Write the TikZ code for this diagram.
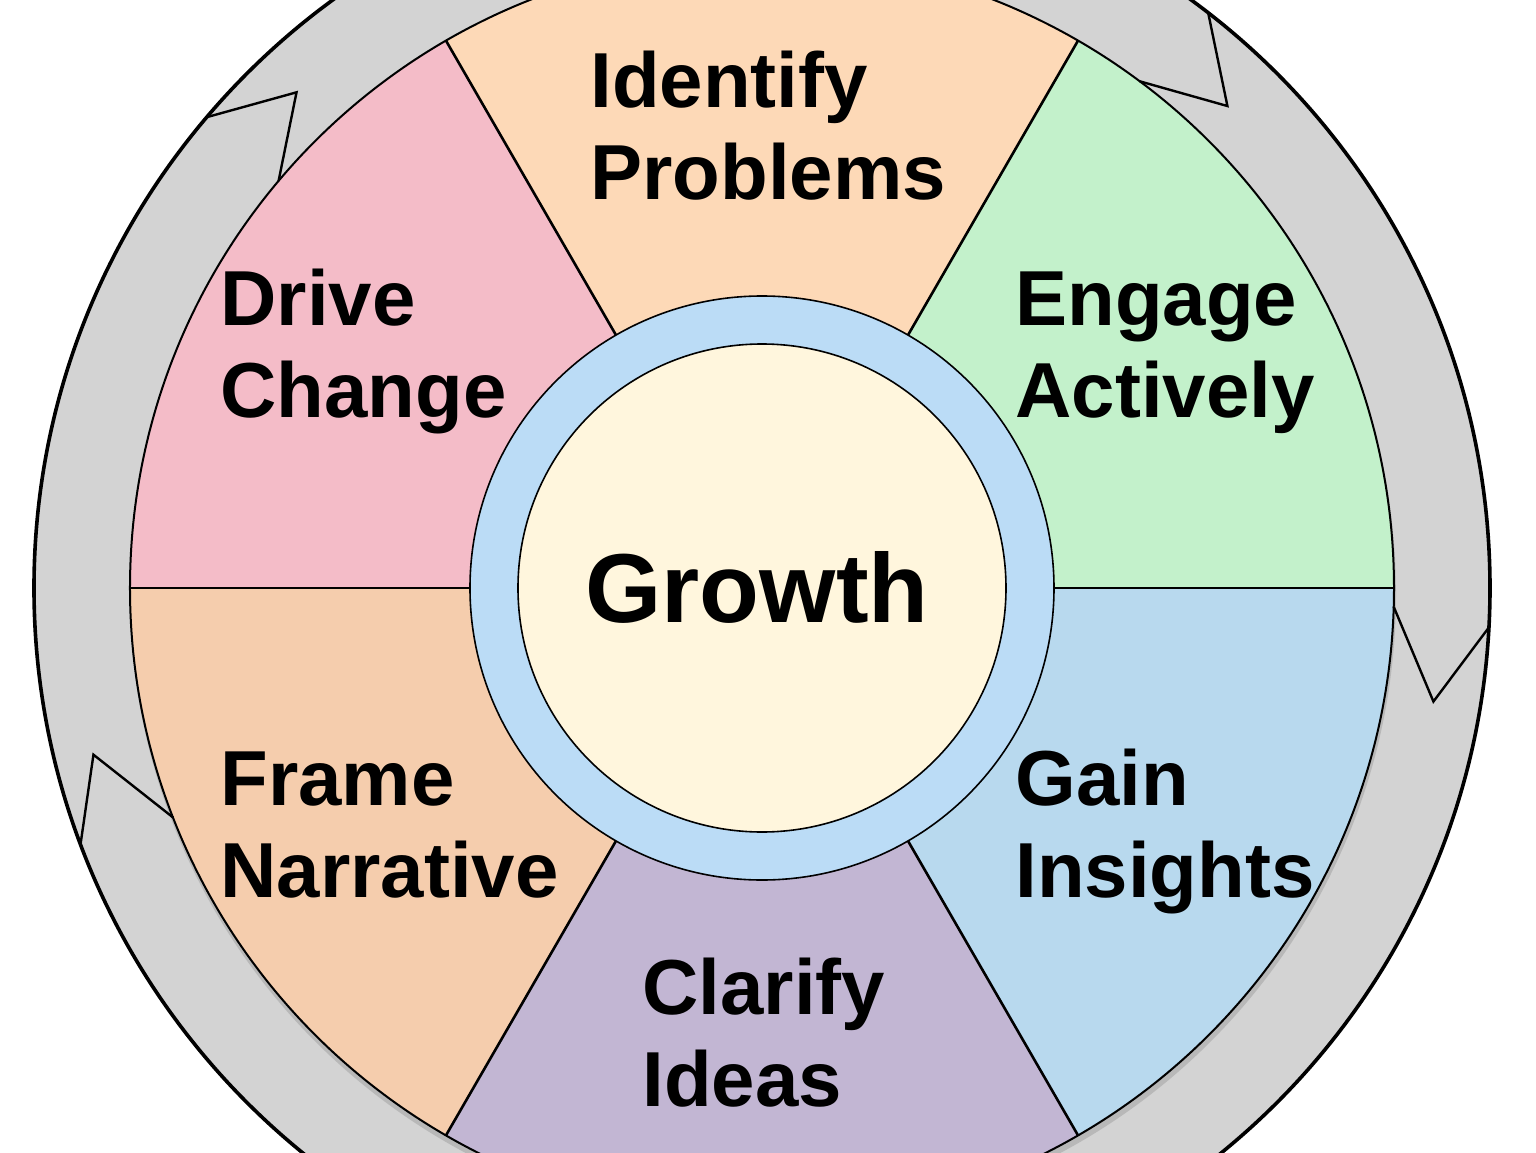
\documentclass[tikz,border=0pt]{standalone}
\usepackage{fontspec}
\setmainfont{Liberation Sans}
\definecolor{ringgrey}{HTML}{D3D3D3}
\definecolor{secTop}{HTML}{FDD9B7}
\definecolor{secUL}{HTML}{F4BCC8}
\definecolor{secUR}{HTML}{C3F1CB}
\definecolor{secLR}{HTML}{B8D9EE}
\definecolor{secBot}{HTML}{C2B6D3}
\definecolor{secLL}{HTML}{F5CDAD}
\definecolor{hubring}{HTML}{BBDCF6}
\definecolor{hubcore}{HTML}{FFF6DD}
\tikzset{
  lbl/.style={font=\fontsize{39}{46}\selectfont\bfseries, align=left, anchor=base west, inner sep=0pt, text=black},
  hublbl/.style={font=\fontsize{49}{56}\selectfont\bfseries, anchor=base, inner sep=0pt, text=black},
  notch/.style={draw=black, line width=1.2pt, line join=miter},
  spoke/.style={draw=black, line width=1.3pt}
}
\begin{document}
\begin{tikzpicture}[x=0.5pt,y=0.5pt]
\useasboundingbox (-762,-564) rectangle (774,588);
% grey ring
\fill[ringgrey] (0,0) circle[radius=728];
% soft shadow below wheel
\fill[black!28] (1,-6) circle[radius=633];
% sectors
\fill[secUR]  (0,0) -- (0:632)   arc[start angle=0,   end angle=60,  radius=632] -- cycle;
\fill[secTop] (0,0) -- (60:632)  arc[start angle=60,  end angle=120, radius=632] -- cycle;
\fill[secUL]  (0,0) -- (120:632) arc[start angle=120, end angle=180, radius=632] -- cycle;
\fill[secLL]  (0,0) -- (180:632) arc[start angle=180, end angle=240, radius=632] -- cycle;
\fill[secBot] (0,0) -- (240:632) arc[start angle=240, end angle=300, radius=632] -- cycle;
\fill[secLR]  (0,0) -- (300:632) arc[start angle=300, end angle=360, radius=632] -- cycle;
\draw[black, line width=1pt] (0,0) circle[radius=632];
% spokes
\foreach \a in {0,60,120,180,240,300}{
  \draw[spoke] (\a:290) -- (\a:632);
}
% hub
\fill[hubring] (0,0) circle[radius=292];
\draw[black, line width=0.8pt] (0,0) circle[radius=292];
\fill[hubcore] (0,0) circle[radius=244];
\draw[black, line width=0.8pt] (0,0) circle[radius=244];
% outer ring edge
\draw[black, line width=1.8pt] (0,0) circle[radius=728];
% notches
\coordinate (n1o) at (139.7:728); \coordinate (n1a) at (133.2:680); \coordinate (n1i) at (139.9:632);
\coordinate (n2o) at (52.2:728);  \coordinate (n2a) at (46:670);    \coordinate (n2i) at (53.3:632);
\coordinate (n3o) at (-3.1:728);  \coordinate (n3a) at (-9.6:681);  \coordinate (n3i) at (-1.7:632);
\coordinate (n4o) at (200.6:728); \coordinate (n4a) at (194:689);   \coordinate (n4i) at (201.3:632);
\draw[notch] (n1o) -- (n1a) -- (n1i);
\draw[notch] (n2o) -- (n2a) -- (n2i);
\draw[notch] (n3o) -- (n3a) -- (n3i);
\draw[notch] (n4o) -- (n4a) -- (n4i);
% labels (base anchor = baseline of last line)
\node[lbl] (identify) at (-172,388) {Identify\\Problems};
\node[lbl] (drive)    at (-542,171) {Drive\\Change};
\node[lbl] (engage)   at (253,171)  {Engage\\Actively};
\node[lbl] (frame)    at (-542,-309) {Frame\\Narrative};
\node[lbl] (gain)     at (253,-309) {Gain\\Insights};
\node[lbl] (clarify)  at (-120,-518) {Clarify\\Ideas};
\node[hublbl] (growth) at (-5,-34) {Growth};
\end{tikzpicture}
\end{document}
